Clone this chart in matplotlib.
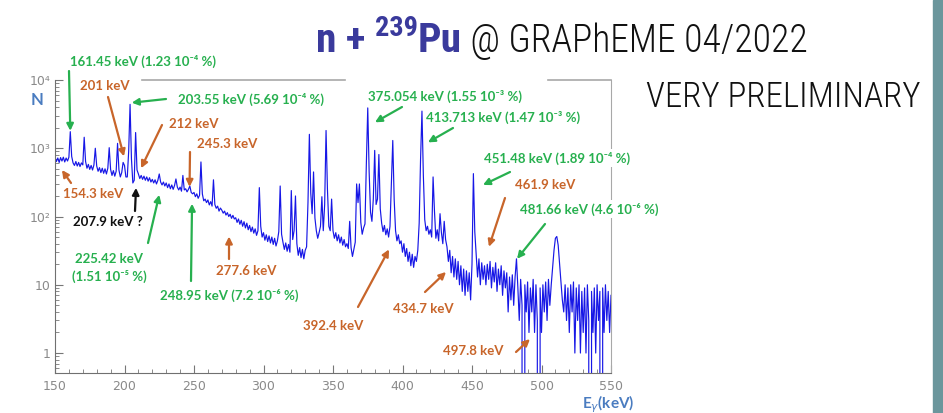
import matplotlib
matplotlib.use("Agg")
import matplotlib.pyplot as plt
from matplotlib.patches import Rectangle
from matplotlib.lines import Line2D
import numpy as np

# --- data (1 keV channels, 150..550 keV) ---
E_START = 150
counts = [
    740, 640, 720, 620, 730, 650, 740, 630, 720, 650,  # 150
    740, 1750, 760, 610, 560, 640, 550, 620, 540, 610,  # 160
    570, 1450, 640, 510, 580, 490, 560, 480, 570, 1000,  # 170
    550, 460, 520, 440, 510, 430, 500, 420, 510, 1020,  # 180
    490, 400, 470, 390, 460, 1180, 480, 380, 440, 620,  # 190
    560, 380, 380, 900, 4400, 700, 310, 340, 1700, 480,  # 200
    420, 360, 400, 350, 390, 340, 380, 330, 370, 320,  # 210
    350, 310, 345, 300, 340, 420, 320, 290, 320, 280,  # 220
    310, 265, 300, 255, 290, 250, 285, 355, 270, 245,  # 230
    270, 235, 400, 245, 255, 230, 250, 280, 225, 215,  # 240
    225, 195, 215, 185, 205, 630, 215, 170, 180, 160,  # 250
    175, 148, 165, 142, 345, 150, 132, 142, 120, 133,  # 260
    124, 112, 120, 105, 114, 100, 108, 94, 104, 92,  # 270
    96, 82, 92, 77, 88, 72, 84, 68, 80, 64,  # 280
    74, 60, 70, 57, 66, 53, 62, 265, 72, 50,  # 290
    58, 45, 54, 43, 52, 41, 50, 39, 48, 37,  # 300
    44, 60, 280, 55, 42, 33, 41, 31, 39, 30,  # 310
    240, 46, 62, 200, 40, 27, 35, 25, 33, 24,  # 320
    32, 36, 160, 1600, 220, 110, 450, 95, 62, 48,  # 330
    58, 72, 195, 62, 150, 1820, 250, 72, 62, 180,  # 340
    62, 48, 58, 44, 54, 41, 50, 38, 46, 36,  # 350
    40, 34, 85, 35, 26, 33, 42, 300, 160, 300,  # 360
    82, 55, 68, 78, 600, 3900, 450, 115, 85, 180,  # 370
    930, 150, 180, 810, 130, 80, 60, 74, 54, 66,  # 380
    50, 72, 300, 1300, 180, 62, 44, 54, 40, 44,  # 390
    30, 40, 26, 34, 22, 30, 19, 28, 18, 26,  # 400
    22, 32, 80, 700, 3500, 400, 90, 62, 72, 55,  # 410
    64, 50, 380, 120, 48, 64, 44, 110, 58, 40,  # 420
    85, 46, 36, 22, 32, 15, 26, 13, 24, 12,  # 430
    22, 10, 19, 8, 17, 7, 16, 8, 15, 6,  # 440
    20, 425, 60, 28, 13, 24, 10, 21, 12, 19,  # 450
    10, 20, 12, 22, 9, 18, 11, 21, 8, 17,  # 460
    10, 19, 7, 16, 9, 15, 4, 13, 6, 14,  # 470
    5, 13, 24, 9, 3, 12, 5, 0, 10, 4,  # 480
    11, 2, 9, 4, 12, 2, 10, 3, 0, 9,  # 490
    2, 10, 4, 11, 3, 12, 5, 10, 18, 32,  # 500
    48, 51, 38, 20, 11, 6, 4, 10, 3, 9,  # 510
    2, 10, 4, 11, 1, 9, 3, 10, 1, 8,  # 520
    2, 9, 1, 10, 3, 0, 8, 2, 9, 1,  # 530
    10, 3, 8, 0, 9, 2, 10, 3, 8, 2,  # 540
    7,  # 550
]
energy = E_START + np.arange(len(counts))

x_ticks = [150, 200, 250, 300, 350, 400, 450, 500, 550]
y_ticks = [1, 10, 100, 1000, 10000]
y_tick_labels = ["1", "10", "10\u00b2", "10\u00b3", "10\u2074"]

# label text, colour, text centre (px), arrow tail (px), arrow tip (keV, counts)
GREEN = "#27b04f"
ORANGE = "#c8652a"
BLACK = "#111111"
labels = [
    ("161.45 keV (1.23 10\u207b\u2074 %)", GREEN, (143, 61), (69, 71), (161.0, 1800)),
    ("201 keV", ORANGE, (105, 86), (108, 97), (199.6, 760)),
    ("203.55 keV (5.69 10\u207b\u2074 %)", GREEN, (251, 99), (166, 99), (205.2, 4650)),
    ("212 keV", ORANGE, (194, 124), (162, 125), (211.9, 510)),
    ("245.3 keV", ORANGE, (227, 144), (190, 152), (246.8, 272)),
    ("154.3 keV", ORANGE, (93, 194), (71, 183), (155.0, 480)),
    ("207.9 keV ?", BLACK, (108, 222), (135, 211), (208.3, 263)),
    ("225.42 keV\n(1.51 10\u207b\u2075 %)", GREEN, (109, 268), (148, 243), (225.0, 208)),
    ("248.95 keV (7.2 10\u207b\u2076 %)", GREEN, (229, 295), (191, 281), (248.6, 154)),
    ("277.6 keV", ORANGE, (246, 271), (229, 259), (275.2, 51)),
    ("375.054 keV (1.55 10\u207b\u00b3 %)", GREEN, (445, 96), (402, 107), (380.2, 2400)),
    ("413.713 keV (1.47 10\u207b\u00b3 %)", GREEN, (503, 117), (453, 128), (418.3, 1220)),
    ("451.48 keV (1.89 10\u207b\u2074 %)", GREEN, (557, 158), (510, 172), (457.9, 290)),
    ("461.9 keV", ORANGE, (545, 185), (505, 198), (462.2, 36)),
    ("481.66 keV (4.6 10\u207b\u2076 %)", GREEN, (589, 209), (545, 224), (482.4, 24)),
    ("392.4 keV", ORANGE, (333, 326), (358, 307), (390.3, 33)),
    ("434.7 keV", ORANGE, (423, 309), (425, 292), (431.3, 15.4)),
    ("497.8 keV", ORANGE, (473, 351), (516, 352), (491.7, 1.6)),
]

W, H = 943, 413


def fx(px):
    return px / W


def fy(py):
    return 1 - py / H


fig = plt.figure(figsize=(W / 100, H / 100), dpi=100)
fig.patch.set_facecolor("white")

ax = fig.add_axes([fx(55), fy(373), (611 - 55) / W, (373 - 80) / H])
ax.plot(energy, counts, color="#1717e6", lw=0.85)
ax.set_yscale("log", nonpositive="clip")
ax.set_xlim(150, 550)
ax.set_ylim(0.51, 1e4)

ax.set_xticks(x_ticks)
ax.set_xticks(np.arange(150, 551, 10), minor=True)
ax.set_yticks(y_ticks)
ax.set_yticklabels(y_tick_labels)
ax.tick_params(which="both", direction="in", colors="#777777", labelsize=9,
               top=False, right=False)
ax.tick_params(which="major", length=6)
ax.tick_params(which="minor", length=3)
ax.tick_params(axis="x", pad=5)
for t in ax.get_xticklabels() + ax.get_yticklabels():
    t.set_color("#8a8a8a")

for side in ["left", "bottom"]:
    ax.spines[side].set_color("#707070")
ax.spines["right"].set_color("#a8a8a8")
ax.spines["top"].set_visible(False)
# partial top frame, as in the slide
for x0, x1 in [(142, 345), (548, 611)]:
    ax.add_line(Line2D([(x0 - 55) / 556, (x1 - 55) / 556], [1, 1],
                       transform=ax.transAxes, color="#a8a8a8", lw=1.2,
                       clip_on=False))

fig.text(fx(37), fy(100), "N", color="#4a7cc0", fontsize=12,
         fontweight="bold", family="Lato", ha="center", va="center")
fig.text(fx(608), fy(404), r"E$_\gamma$(keV)", color="#4a7cc0", fontsize=11,
         fontweight="bold", family="Lato", ha="center", va="center")

for text, color, (tx, ty), (ax0, ay0), tip in labels:
    ax.annotate("", xy=tip, xycoords="data",
                xytext=(fx(ax0), fy(ay0)), textcoords="figure fraction",
                arrowprops=dict(arrowstyle="-|>", color=color, lw=1.6,
                                mutation_scale=10, shrinkA=0, shrinkB=0),
                annotation_clip=False)
    fig.text(fx(tx), fy(ty), text, color=color, fontsize=9.5,
             fontweight="bold", family=["Lato", "DejaVu Sans"],
             ha="center", va="center", linespacing=1.4,
             bbox=dict(fc="white", ec="none", pad=1.5), zorder=5)

# --- title (condensed font if one is available, sized to fit) ---
renderer = fig.canvas.get_renderer()
NAVY = "#3a3a9c"
narrow = ["Liberation Sans Narrow", "Noto Sans ExtraCondensed",
          "Noto Sans Condensed", "Roboto Condensed", "DejaVu Sans"]


def chain(pieces, x0, base, width, weight, grow=False):
    texts = []
    for s, size, col, dy in pieces:
        t = fig.text(0, 0, s, color=col, fontsize=size, fontweight=weight,
                     family=narrow, fontstretch="condensed",
                     ha="left", va="baseline")
        texts.append(t)
    total = sum(t.get_window_extent(renderer).width for t in texts)
    k = width / total if grow else min(1.0, width / total)
    x = x0
    for t, (s, size, col, dy) in zip(texts, pieces):
        t.set_fontsize(size * k)
        t.set_position((fx(x), fy(base + dy * k)))
        x += t.get_window_extent(renderer).width
    return x


x_end = chain([("n + ", 22, NAVY, 0), ("239", 15, NAVY, -12),
               ("Pu", 22, NAVY, 0)], 316, 52, 146, "bold", grow=True)
chain([(" @ GRAPhEME 04/2022", 34, "#111111", 0)], x_end, 52,
      808 - x_end, "light")
vp = fig.text(fx(921), fy(107), "VERY PRELIMINARY", color="#111111",
              fontsize=34, fontweight="light", family=narrow,
              fontstretch="condensed", ha="right", va="baseline")
w = vp.get_window_extent(renderer).width
if w > 275:
    vp.set_fontsize(34 * 275 / w)

fig.add_artist(Rectangle((fx(933), 0), fx(10), 1, transform=fig.transFigure,
                         color="#6b969c", zorder=10))

fig.savefig("out.png", dpi=100)
